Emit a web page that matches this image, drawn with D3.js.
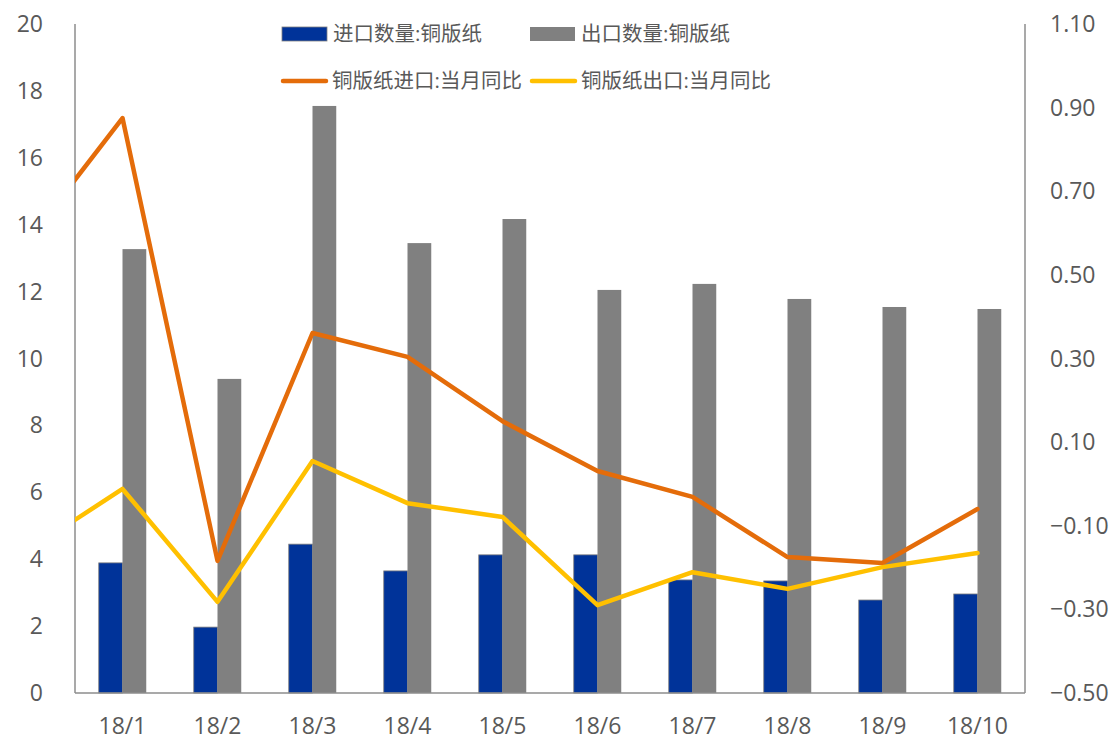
<!DOCTYPE html>
<html>
<head>
<meta charset="utf-8">
<script src="https://d3js.org/d3.v7.min.js"></script>
<style>
  body { margin: 0; background: #fff; }
  text { font-family: "Open Sans", "Noto Sans CJK SC", sans-serif; fill: #595959; }
</style>
</head>
<body>
<script>
// data
var months = ["18/1", "18/2", "18/3", "18/4", "18/5", "18/6", "18/7", "18/8", "18/9", "18/10"];
var importQty = [3.89, 1.97, 4.45, 3.65, 4.13, 4.13, 3.38, 3.35, 2.78, 2.96];
var exportQty = [13.27, 9.39, 17.55, 13.45, 14.17, 12.05, 12.23, 11.78, 11.54, 11.48];
var importYoY = [0.875, -0.184, 0.361, 0.304, 0.15, 0.031, -0.031, -0.175, -0.189, -0.06];
var exportYoY = [-0.012, -0.282, 0.055, -0.046, -0.079, -0.29, -0.211, -0.251, -0.199, -0.165];
// previous month (17/12), only visible as the clipped segment at the left edge
var prevImportYoY = 0.58;
var prevExportYoY = -0.16;
var leftTicks = [0, 2, 4, 6, 8, 10, 12, 14, 16, 18, 20];
var rightTicks = [-0.5, -0.3, -0.1, 0.1, 0.3, 0.5, 0.7, 0.9, 1.1];

var W = 1109, H = 740;
var margin = {top: 24, right: 84, bottom: 47, left: 75};
var width = W - margin.left - margin.right,
    height = H - margin.top - margin.bottom;

var svg = d3.select("body").append("svg")
    .attr("width", W)
    .attr("height", H);
var g = svg.append("g")
    .attr("transform", "translate(" + margin.left + "," + margin.top + ")");

var x = d3.scaleBand().domain(months).range([0, width]);
var y = d3.scaleLinear().domain([0, 20]).range([height, 0]);
var y2 = d3.scaleLinear().domain([-0.5, 1.1]).range([height, 0]);
var barW = x.bandwidth() / 4;

// bars
g.selectAll(".imp").data(months).enter().append("rect")
    .attr("x", function (d) { return x(d) + x.bandwidth() / 2 - barW; })
    .attr("y", function (d, i) { return y(importQty[i]); })
    .attr("width", barW)
    .attr("height", function (d, i) { return height - y(importQty[i]); })
    .attr("fill", "#003399")
    .attr("stroke", "#7f7f7f")
    .attr("stroke-width", 0.8);

g.selectAll(".exp").data(months).enter().append("rect")
    .attr("x", function (d) { return x(d) + x.bandwidth() / 2; })
    .attr("y", function (d, i) { return y(exportQty[i]); })
    .attr("width", barW)
    .attr("height", function (d, i) { return height - y(exportQty[i]); })
    .attr("fill", "#808080");

// axes lines
var axisColor = "#8c8c8c";
g.append("line").attr("x1", 0).attr("x2", 0).attr("y1", 0).attr("y2", height)
    .attr("stroke", axisColor).attr("stroke-width", 1.5);
g.append("line").attr("x1", width).attr("x2", width).attr("y1", 0).attr("y2", height)
    .attr("stroke", axisColor).attr("stroke-width", 1.5);
g.append("line").attr("x1", 0).attr("x2", width).attr("y1", height).attr("y2", height)
    .attr("stroke", axisColor).attr("stroke-width", 1.5);

// lines
g.append("defs").append("clipPath").attr("id", "clip")
    .append("rect").attr("x", 0).attr("y", -5).attr("width", width).attr("height", height + 10);

function center(i) { return x(months[0]) + x.bandwidth() / 2 + i * x.step(); }
var line = d3.line()
    .x(function (d) { return center(d.i); })
    .y(function (d) { return y2(d.v); });

var impLine = [{i: -1, v: prevImportYoY}].concat(importYoY.map(function (v, i) { return {i: i, v: v}; }));
var expLine = [{i: -1, v: prevExportYoY}].concat(exportYoY.map(function (v, i) { return {i: i, v: v}; }));

var lines = g.append("g").attr("clip-path", "url(#clip)");
lines.append("path").datum(impLine).attr("d", line)
    .attr("fill", "none").attr("stroke", "#E46C0A").attr("stroke-width", 4.5)
    .attr("stroke-linejoin", "round").attr("stroke-linecap", "round");
lines.append("path").datum(expLine).attr("d", line)
    .attr("fill", "none").attr("stroke", "#FFC000").attr("stroke-width", 4.5)
    .attr("stroke-linejoin", "round").attr("stroke-linecap", "round");

// tick labels
var fs = "23px";
g.selectAll(".lt").data(leftTicks).enter().append("text")
    .attr("x", -32).attr("y", function (d) { return y(d); })
    .attr("dy", "0.35em").attr("text-anchor", "end")
    .style("font-size", fs).text(function (d) { return d; });

g.selectAll(".rt").data(rightTicks).enter().append("text")
    .attr("x", width + 25).attr("y", function (d) { return y2(d); })
    .attr("dy", "0.35em").attr("text-anchor", "start")
    .style("font-size", fs).text(function (d) { return d3.format(".2f")(d); });

g.selectAll(".xt").data(months).enter().append("text")
    .attr("x", function (d) { return x(d) + x.bandwidth() / 2; })
    .attr("y", height + 33).attr("dy", "0.35em").attr("text-anchor", "middle")
    .style("font-size", fs).text(function (d) { return d; });

// legend
var legend = [
    {label: "进口数量:铜版纸", type: "rect", color: "#003399", x: 282, y: 34},
    {label: "出口数量:铜版纸", type: "rect", color: "#808080", x: 530, y: 34},
    {label: "铜版纸进口:当月同比", type: "line", color: "#E46C0A", x: 281, y: 81},
    {label: "铜版纸出口:当月同比", type: "line", color: "#FFC000", x: 530, y: 81}
];
var lg = svg.append("g");
legend.forEach(function (d) {
    if (d.type === "rect") {
        lg.append("rect").attr("x", d.x).attr("y", d.y - 7).attr("width", 45).attr("height", 14)
            .attr("fill", d.color)
            .attr("stroke", d.color === "#003399" ? "#7f7f7f" : "none").attr("stroke-width", 0.8);
    } else {
        lg.append("line").attr("x1", d.x + 2).attr("x2", d.x + 45).attr("y1", d.y).attr("y2", d.y)
            .attr("stroke", d.color).attr("stroke-width", 4.5).attr("stroke-linecap", "round");
    }
    lg.append("text").attr("x", d.x + 51).attr("y", d.y).attr("dy", "0.35em")
        .style("font-size", "20.5px").text(d.label);
});
</script>
</body>
</html>
